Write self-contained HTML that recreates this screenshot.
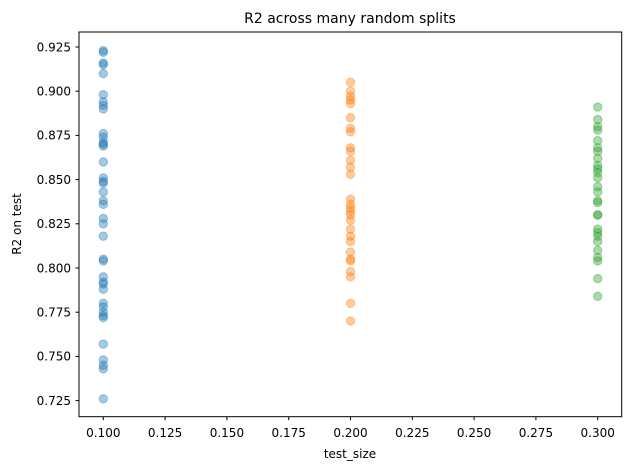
<!DOCTYPE html>
<html><head><meta charset="utf-8"><style>
body{margin:0;background:#fff;font-family:"DejaVu Sans","Liberation Sans",sans-serif}
</style></head><body>
<svg id="chart" width="631" height="470" xmlns="http://www.w3.org/2000/svg">
<rect width="631" height="470" fill="#fff"/>
<g id="ticks"></g>
<g id="points"></g>
<rect x="79" y="32" width="542.7" height="384.7" fill="none" stroke="#000" stroke-width="1"/>
<text x="350" y="23" text-anchor="middle" font-size="14">R2 across many random splits</text>
<text x="350" y="458" text-anchor="middle" font-size="12">test_size</text>
<text transform="translate(21,224) rotate(-90)" text-anchor="middle" font-size="12">R2 on test</text>
</svg>
<script>
const xTicks=[0.1,0.125,0.15,0.175,0.2,0.225,0.25,0.275,0.3];
const yTicks=[0.725,0.75,0.775,0.8,0.825,0.85,0.875,0.9,0.925];
const testSizes=[0.1,0.2,0.3];
const seriesColors=["#1f77b4","#ff7f0e","#2ca02c"];
const r2Blue=[0.923,0.922,0.916,0.915,0.910,0.898,0.894,0.892,0.890,0.876,0.874,0.871,0.870,0.869,0.860,0.851,0.849,0.848,0.843,0.838,0.836,0.828,0.825,0.818,0.805,0.804,0.795,0.792,0.791,0.788,0.780,0.778,0.775,0.773,0.772,0.757,0.748,0.745,0.743,0.726];
const r2Orange=[0.905,0.900,0.897,0.895,0.893,0.885,0.879,0.877,0.868,0.866,0.861,0.857,0.853,0.839,0.836,0.834,0.832,0.830,0.827,0.822,0.818,0.815,0.809,0.805,0.804,0.798,0.795,0.780,0.770];
const r2Green=[0.891,0.884,0.880,0.878,0.872,0.868,0.866,0.862,0.858,0.856,0.854,0.851,0.846,0.843,0.838,0.837,0.830,0.830,0.822,0.820,0.818,0.815,0.810,0.806,0.804,0.794,0.784];
const NS="http://www.w3.org/2000/svg";
const xs=v=>103.3+(v-0.1)*2472;
const ys=v=>47+(0.925-v)*1768;
const tg=document.getElementById('ticks'),pg=document.getElementById('points');
function mk(tag,attrs,parent){const e=document.createElementNS(NS,tag);for(const k in attrs)e.setAttribute(k,attrs[k]);parent.appendChild(e);return e;}
xTicks.forEach(t=>{const x=xs(t);
const l=mk('line',{x1:x,x2:x,y1:416.7,y2:420.2,stroke:'#000'},tg);


const tx=mk('text',{x:x,y:437,'text-anchor':'middle','font-size':'12'},tg);tx.textContent=t.toFixed(3);

});
yTicks.forEach(t=>{const y=ys(t);
const l=mk('line',{x1:75.5,x2:79,y1:y,y2:y,stroke:'#000'},tg);


const tx=mk('text',{x:71,y:y+4.3,'text-anchor':'end','font-size':'12'},tg);tx.textContent=t.toFixed(3);

});
[r2Blue,r2Orange,r2Green].forEach((arr,i)=>{arr.forEach(v=>{
const c=mk('circle',{cx:xs(testSizes[i]),cy:ys(v),r:4.2,fill:seriesColors[i],'fill-opacity':0.4,stroke:seriesColors[i],'stroke-opacity':0.4,'stroke-width':1},pg);

});});
</script>
</body></html>
